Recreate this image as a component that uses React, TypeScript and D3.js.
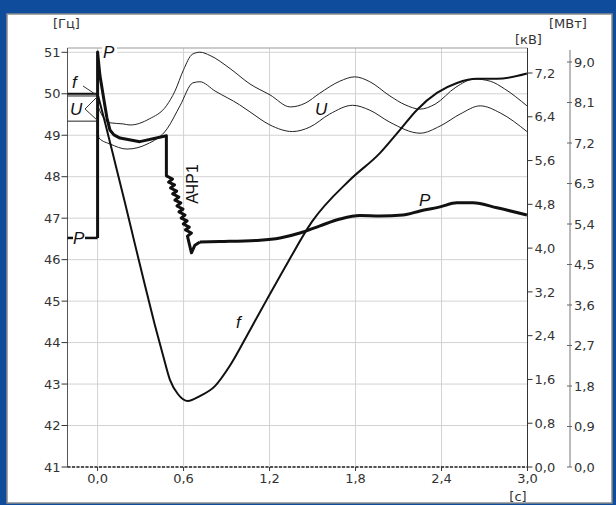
import React from "react";
import * as d3 from "d3";

// ---- data ----
const T_TICKS = [0, 0.6, 1.2, 1.8, 2.4, 3.0];
const HZ_TICKS = [41, 42, 43, 44, 45, 46, 47, 48, 49, 50, 51];
const KV_TICKS = [0, 0.8, 1.6, 2.4, 3.2, 4.0, 4.8, 5.6, 6.4, 7.2];
const MW_TICKS = [0, 0.9, 1.8, 2.7, 3.6, 4.5, 5.4, 6.3, 7.2, 8.1, 9.0];

// frequency f [Hz]
const F_PRE = 50.0;
const fT = [0, 0.051, 0.121, 0.191, 0.26, 0.33, 0.4, 0.456, 0.505, 0.56, 0.63, 0.714, 0.819, 0.923, 1.063, 1.18, 1.328, 1.495, 1.76, 1.97, 2.11, 2.228, 2.368, 2.508, 2.647, 2.787, 2.996];
const fV = [50.0, 49.32, 48.35, 47.37, 46.38, 45.39, 44.42, 43.7, 43.1, 42.76, 42.59, 42.71, 42.95, 43.44, 44.3, 45.03, 45.94, 46.91, 47.92, 48.57, 49.13, 49.61, 50.02, 50.26, 50.36, 50.36, 50.49];

// active power P [MW] (step / АЧР1 part, then smooth part)
const P_PRE = 5.09;
const pStepT = [0, 0, 0.016, 0.044, 0.065, 0.086, 0.114, 0.156, 0.295, 0.48, 0.48, 0.523, 0.495, 0.537, 0.509, 0.552, 0.524, 0.567, 0.539, 0.581, 0.554, 0.596, 0.568, 0.61, 0.583, 0.625, 0.598, 0.64, 0.613, 0.655, 0.627, 0.655, 0.679, 0.714];
const pStepV = [5.09, 9.22, 8.71, 8.16, 7.76, 7.49, 7.38, 7.31, 7.23, 7.36, 6.47, 6.4, 6.33, 6.27, 6.2, 6.13, 6.07, 6.0, 5.93, 5.87, 5.8, 5.73, 5.67, 5.6, 5.53, 5.47, 5.4, 5.33, 5.27, 5.2, 5.13, 4.76, 4.93, 5.0];
const pT = [0.714, 0.853, 1.133, 1.273, 1.412, 1.552, 1.691, 1.831, 1.971, 2.13, 2.25, 2.39, 2.507, 2.619, 2.787, 2.996];
const pV = [5.0, 5.01, 5.04, 5.09, 5.2, 5.36, 5.51, 5.59, 5.58, 5.6, 5.69, 5.78, 5.87, 5.87, 5.76, 5.6];

// voltages U [kV]
const U1_PRE = 6.78;
const u1T = [0, 0.005, 0.086, 0.177, 0.227, 0.36, 0.48, 0.54, 0.6, 0.66, 0.714, 0.785, 0.925, 1.063, 1.203, 1.345, 1.45, 1.55, 1.69, 1.795, 1.9, 2.04, 2.145, 2.25, 2.355, 2.5, 2.63, 2.74, 2.84, 2.996];
const u1V = [6.78, 6.58, 6.29, 6.27, 6.25, 6.36, 6.6, 6.87, 7.26, 7.54, 7.58, 7.52, 7.28, 7.0, 6.8, 6.58, 6.65, 6.83, 7.05, 7.13, 7.04, 6.78, 6.62, 6.54, 6.63, 6.94, 7.09, 7.05, 6.91, 6.6];
const U2_PRE = 6.32;
const u2T = [0, 0.01, 0.09, 0.205, 0.345, 0.485, 0.575, 0.665, 0.714, 0.82, 0.99, 1.063, 1.203, 1.36, 1.48, 1.62, 1.78, 1.9, 2.04, 2.25, 2.39, 2.53, 2.67, 2.81, 2.996];
const u2V = [6.32, 6.01, 5.9, 5.81, 5.9, 6.18, 6.6, 7.02, 7.04, 6.87, 6.62, 6.49, 6.25, 6.13, 6.21, 6.45, 6.61, 6.52, 6.3, 6.1, 6.23, 6.45, 6.6, 6.47, 6.13];

const fmt = (v: number) => d3.format(".1f")(v).replace(".", ",");

export default function App() {
  const W = 616, H = 505;
  const x0 = 67.5, x1 = 527.5, yTop = 48, yBot = 467;
  const x = d3.scaleLinear().domain([-0.21, 3.0]).range([x0, x1]);
  const yHz = d3.scaleLinear().domain([41, 51]).range([yBot, 52.3]);
  const yKv = d3.scaleLinear().domain([0, 7.2]).range([yBot, 73]);
  const yMw = d3.scaleLinear().domain([0, 9.0]).range([yBot, 62]);

  const smooth = (ys: d3.ScaleLinear<number, number>) =>
    d3.line<[number, number]>().x((d) => x(d[0])).y((d) => ys(d[1])).curve(d3.curveMonotoneX);
  const straight = (ys: d3.ScaleLinear<number, number>) =>
    d3.line<[number, number]>().x((d) => x(d[0])).y((d) => ys(d[1]));

  const zip = (a: number[], b: number[]) => a.map((t, i) => [t, b[i]] as [number, number]);
  const fData = zip(fT, fV);
  const pStepData = zip(pStepT, pStepV);
  const pData = zip(pT, pV);
  const u1Data = zip(u1T, u1V);
  const u2Data = zip(u2T, u2V);

  const tick = "#333";
  const grid = "#d2d2d2";
  const num = { fontFamily: "DejaVu Sans, Verdana, sans-serif", fontSize: 13, fill: "#333" } as const;
  const ital = { fontFamily: "Liberation Sans, Arial, sans-serif", fontSize: 17, fontStyle: "italic", fill: "#111" } as const;

  const xs0 = x(0);

  return (
    <svg width={W} height={H} style={{ position: "fixed", left: 0, top: 0 }}>
      <rect x={0} y={0} width={W} height={H} fill="#0f4d9c" />
      <rect x={7} y={14} width={605} height={489} fill="#fff" stroke="#8c8c8c" strokeWidth={1.5} />

      {/* grid */}
      {HZ_TICKS.map((v) => (
        <line key={"gh" + v} x1={x0} x2={x1} y1={yHz(v)} y2={yHz(v)} stroke={grid} />
      ))}
      {T_TICKS.map((t) => (
        <line key={"gv" + t} x1={x(t)} x2={x(t)} y1={yTop} y2={yBot} stroke={grid} />
      ))}
      <line x1={x0} x2={x1} y1={yTop} y2={yTop} stroke="#999" />

      {/* left axis */}
      <line x1={x0} x2={x0} y1={yTop} y2={yBot} stroke="#555" />
      {HZ_TICKS.map((v) => (
        <g key={"th" + v}>
          <line x1={x0 - 6} x2={x0} y1={yHz(v)} y2={yHz(v)} stroke={tick} />
          <text x={x0 - 7} y={yHz(v)} dy="0.36em" textAnchor="end" {...num}>{v}</text>
        </g>
      ))}
      <text x={53} y={28} {...num}>[Гц]</text>

      {/* bottom axis */}
      <line x1={x0} x2={x1} y1={yBot} y2={yBot} stroke="#222" strokeWidth={1.5} strokeDasharray="3,1.5" />
      {T_TICKS.map((t) => (
        <g key={"tt" + t}>
          <line x1={x(t)} x2={x(t)} y1={yBot} y2={yBot + 4} stroke={tick} />
          <text x={x(t)} y={483} textAnchor="middle" {...num}>{fmt(t)}</text>
        </g>
      ))}
      <text x={518} y={501} textAnchor="middle" {...num}>[c]</text>

      {/* kV axis */}
      <line x1={x1} x2={x1} y1={yTop} y2={yBot + 3} stroke="#333" />
      {KV_TICKS.map((v) => (
        <g key={"tk" + v}>
          <line x1={x1} x2={x1 + 5} y1={yKv(v)} y2={yKv(v)} stroke={tick} />
          <text x={x1 + 7} y={yKv(v)} dy="0.36em" {...num}>{fmt(v)}</text>
        </g>
      ))}
      <text x={515} y={44} {...num}>[кВ]</text>

      {/* MW axis */}
      <line x1={570} x2={570} y1={50} y2={yBot} stroke="#777" />
      {MW_TICKS.map((v) => (
        <g key={"tm" + v}>
          <line x1={567} x2={572} y1={yMw(v)} y2={yMw(v)} stroke="#666" />
          <text x={574} y={yMw(v)} dy="0.36em" {...num}>{fmt(v)}</text>
        </g>
      ))}
      <text x={549} y={28} {...num}>[МВт]</text>

      {/* pre-history lines */}
      <line x1={x0} x2={xs0} y1={yKv(U1_PRE)} y2={yKv(U1_PRE)} stroke="#222" />
      <line x1={x0} x2={xs0} y1={yKv(U2_PRE)} y2={yKv(U2_PRE)} stroke="#222" />
      <line x1={x0} x2={xs0} y1={yHz(F_PRE)} y2={yHz(F_PRE)} stroke="#111" strokeWidth={2} />
      <line x1={x0} x2={xs0} y1={yMw(P_PRE)} y2={yMw(P_PRE)} stroke="#111" strokeWidth={2.5} />

      {/* curves */}
      <path d={smooth(yKv)(u1Data) || ""} fill="none" stroke="#222" strokeWidth={1} />
      <path d={smooth(yKv)(u2Data) || ""} fill="none" stroke="#222" strokeWidth={1} />
      <path d={smooth(yHz)(fData) || ""} fill="none" stroke="#111" strokeWidth={2} />
      <path d={straight(yMw)(pStepData) || ""} fill="none" stroke="#111" strokeWidth={3} strokeLinejoin="round" />
      <path d={smooth(yMw)(pData) || ""} fill="none" stroke="#111" strokeWidth={3} />

      {/* labels */}
      <line x1={83} y1={86} x2={95} y2={94} stroke="#333" />
      <polyline points="97,97 85,109 97,120" fill="none" stroke="#333" />
      <text x={72} y={88} {...ital}>f</text>
      <text x={70} y={115} {...ital}>U</text>
      <rect x={73} y={230} width={12} height={15} fill="#fff" />
      <text x={73} y={244} {...ital}>P</text>
      <rect x={102} y={42} width={15} height={12} fill="#fff" />
      <text x={103} y={58} {...ital}>P</text>
      <text x={315} y={115} {...ital}>U</text>
      <text x={236} y={328} {...ital}>f</text>
      <text x={419} y={206} {...ital}>P</text>
      <text
        transform="translate(198,184) rotate(-90)"
        textAnchor="middle"
        fontFamily="Liberation Sans, Arial, sans-serif"
        fontSize={16}
        fill="#111"
      >
        АЧР1
      </text>
    </svg>
  );
}
